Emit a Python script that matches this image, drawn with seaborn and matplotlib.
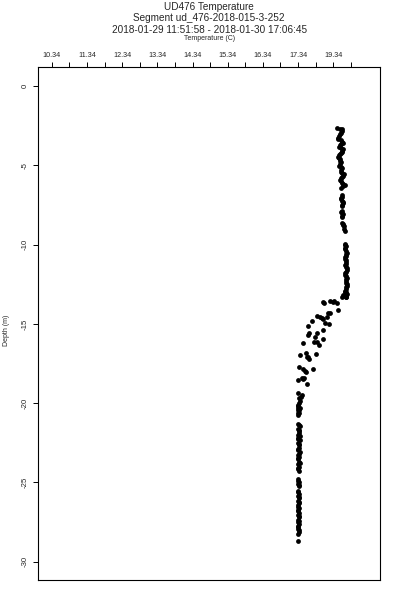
import matplotlib
matplotlib.use("Agg")
import matplotlib.pyplot as plt
import seaborn as sns
import pandas as pd
import numpy as np

# ---- data ----
depth_upper = [-2.65, -2.68, -2.72, -2.85, -2.95, -3.05, -3.15, -3.25, -3.35, -3.42,
               -3.50, -3.58, -3.65, -3.75, -3.85, -3.92, -4.00, -4.08, -4.15, -4.22,
               -4.30, -4.38, -4.45, -4.55, -4.62, -4.70, -4.80, -4.92, -5.05, -5.12,
               -5.20, -5.30, -5.40, -5.48, -5.55, -5.65, -5.75, -5.82, -5.90, -6.00,
               -6.10, -6.18, -6.25, -6.32, -6.40, -6.90, -7.00, -7.08, -7.15, -7.22,
               -7.30, -7.40, -7.50, -7.58, -7.90, -7.95, -8.02, -8.10, -8.18, -8.25,
               -8.65, -8.70, -8.78, -8.85, -9.00, -9.15, -9.95, -10.02, -10.10, -10.20,
               -10.30, -10.40, -10.50, -10.60, -10.70, -10.80, -10.90, -11.00, -11.10, -11.20,
               -11.30, -11.40, -11.50, -11.60, -11.70, -11.80, -11.90, -12.00, -12.10, -12.20,
               -12.30, -12.40, -12.50, -12.60, -12.70, -12.80, -12.90, -13.00, -13.10, -13.20,
               -13.30]
temp_upper = [18.44, 18.52, 18.58, 18.60, 18.55, 18.52, 18.50, 18.47, 18.46, 18.55,
              18.60, 18.62, 18.56, 18.52, 18.50, 18.57, 18.62, 18.60, 18.58, 18.55,
              18.53, 18.50, 18.48, 18.50, 18.52, 18.54, 18.56, 18.53, 18.50, 18.55,
              18.60, 18.57, 18.55, 18.60, 18.64, 18.61, 18.58, 18.55, 18.53, 18.57,
              18.60, 18.63, 18.66, 18.62, 18.57, 18.58, 18.60, 18.57, 18.55, 18.59,
              18.63, 18.61, 18.58, 18.60, 18.60, 18.56, 18.59, 18.62, 18.60, 18.58,
              18.59, 18.61, 18.63, 18.65, 18.64, 18.66, 18.66, 18.68, 18.70, 18.68,
              18.67, 18.70, 18.72, 18.71, 18.69, 18.67, 18.66, 18.69, 18.71, 18.70,
              18.68, 18.71, 18.73, 18.72, 18.70, 18.68, 18.67, 18.70, 18.72, 18.71,
              18.69, 18.71, 18.74, 18.72, 18.70, 18.69, 18.68, 18.71, 18.72, 18.71,
              18.70]

depth_transition = [-12.97, -13.18, -13.28, -13.32, -13.54, -13.56, -13.60, -13.60, -13.66, -13.70,
                    -14.12, -14.29, -14.33, -14.50, -14.55, -14.58, -14.65, -14.71, -14.80, -14.96,
                    -15.01, -15.13, -15.38, -15.56, -15.59, -15.70, -15.81, -15.97, -16.12, -16.12,
                    -16.22, -16.33, -16.85, -16.90, -16.96, -17.07, -17.11, -17.23, -17.70, -17.84,
                    -17.86, -17.95, -18.01, -18.43, -18.43, -18.49, -18.54, -18.79, -19.38, -19.48,
                    -19.59, -20.32, -20.64]
temp_transition = [18.67, 18.62, 18.70, 18.58, 18.25, 18.37, 18.06, 18.34, 18.08, 18.44,
                   18.48, 18.20, 18.25, 17.87, 18.15, 17.96, 18.01, 18.04, 17.73, 18.10,
                   18.23, 17.61, 18.06, 17.87, 17.66, 17.61, 17.82, 18.06, 17.80, 17.87,
                   17.49, 17.94, 17.56, 17.85, 17.39, 17.63, 17.58, 17.66, 17.37, 17.77,
                   17.47, 17.54, 17.56, 17.44, 17.51, 17.49, 17.35, 17.60, 17.35, 17.44,
                   17.41, 17.35, 17.35]

depth_lower = [-19.70, -19.85, -20.00, -20.10, -20.15, -20.30, -20.40, -20.45, -20.60, -20.75,
               -21.30, -21.38, -21.45, -21.60, -21.68, -21.75, -21.90, -21.98, -22.05, -22.20,
               -22.28, -22.35, -22.50, -22.58, -22.65, -22.80, -22.88, -22.95, -23.10, -23.18,
               -23.25, -23.40, -23.48, -23.55, -23.70, -23.78, -23.85, -24.00, -24.08, -24.15,
               -24.30, -24.80, -24.88, -24.95, -25.10, -25.18, -25.25, -25.55, -25.62, -25.70,
               -25.85, -25.92, -26.00, -26.15, -26.22, -26.30, -26.45, -26.52, -26.60, -26.75,
               -26.82, -26.90, -27.05, -27.12, -27.20, -27.35, -27.42, -27.50, -27.65, -27.72,
               -27.80, -27.95, -28.02, -28.10, -28.25, -28.70]
temp_lower = [17.36, 17.38, 17.36, 17.33, 17.34, 17.38, 17.36, 17.35, 17.37, 17.34,
              17.35, 17.37, 17.38, 17.34, 17.36, 17.37, 17.36, 17.34, 17.40, 17.35,
              17.33, 17.38, 17.34, 17.36, 17.37, 17.36, 17.33, 17.34, 17.38, 17.36,
              17.35, 17.37, 17.35, 17.33, 17.36, 17.38, 17.35, 17.37, 17.35, 17.34,
              17.36, 17.35, 17.33, 17.37, 17.34, 17.36, 17.36, 17.35, 17.33, 17.37,
              17.34, 17.36, 17.36, 17.35, 17.37, 17.37, 17.34, 17.35, 17.36, 17.35,
              17.33, 17.37, 17.34, 17.36, 17.36, 17.35, 17.37, 17.33, 17.36, 17.35,
              17.34, 17.35, 17.37, 17.36, 17.34, 17.35]

x_major_ticks = [10.34, 11.34, 12.34, 13.34, 14.34, 15.34, 16.34, 17.34, 18.34]
x_minor_ticks = [10.84, 11.84, 12.84, 13.84, 14.84, 15.84, 16.84, 17.84, 18.84]
x_tick_labels = ["10.34", "11.34", "12.34", "13.34", "14.34", "15.34", "16.34", "17.34", "19.34"]
y_ticks = [0, -5, -10, -15, -20, -25, -30]
y_tick_labels = ["0", "-5", "-10", "-15", "-20", "-25", "-30"]

title_lines = ["UD476 Temperature",
               "Segment ud_476-2018-015-3-252",
               "2018-01-29 11:51:58 - 2018-01-30 17:06:45"]
x_label = "Temperature (C)"
y_label = "Depth (m)"

df = pd.DataFrame({
    "temperature": temp_upper + temp_transition + temp_lower,
    "depth": depth_upper + depth_transition + depth_lower,
})

# ---- plotting ----
sns.set_theme(style="white")
plt.rcParams['font.family'] = ['Liberation Sans', 'DejaVu Sans']

fig = plt.figure(figsize=(4, 6), dpi=100)
W, H = 400, 600
left, right, top, bottom = 38.3, 380, 67.3, 580.3
ax = fig.add_axes([left / W, 1 - bottom / H, (right - left) / W, (bottom - top) / H])

sns.scatterplot(data=df, x="temperature", y="depth", ax=ax, color="black",
                s=12, linewidth=0, legend=False)

ax.set_xlim(9.959, 19.667)
ax.set_ylim(-31.17, 1.18)

ax.xaxis.tick_top()
ax.set_xticks(x_major_ticks)
ax.set_xticks(x_minor_ticks, minor=True)
ax.set_xticklabels(x_tick_labels, fontsize=5.2)
ax.set_yticks(y_ticks)
ax.set_yticklabels(y_tick_labels, fontsize=5.6, rotation=90, va="center")

ax.tick_params(axis="x", which="both", top=True, bottom=False, direction="out",
               length=3.6, width=0.7, color="black", pad=2.5)
ax.tick_params(axis="y", which="major", left=True, direction="out",
               length=3.6, width=0.7, color="black", pad=3)
for sp in ax.spines.values():
    sp.set_color("black")
    sp.set_linewidth(0.8)

ax.set_xlabel("")
ax.set_ylabel("")

cx = (left + right) / 2 / W
fig.text(cx, 1 - 7 / H, title_lines[0], ha="center", va="center", fontsize=7.2)
fig.text(cx, 1 - 18 / H, title_lines[1], ha="center", va="center", fontsize=7.2)
fig.text(cx, 1 - 30 / H, title_lines[2], ha="center", va="center", fontsize=7.2)
fig.text(cx, 1 - 38.5 / H, x_label, ha="center", va="center", fontsize=5)
fig.text(7 / W, 1 - 330 / H, y_label, ha="center", va="center", fontsize=5, rotation=90)

fig.savefig("out.png", dpi=100)
